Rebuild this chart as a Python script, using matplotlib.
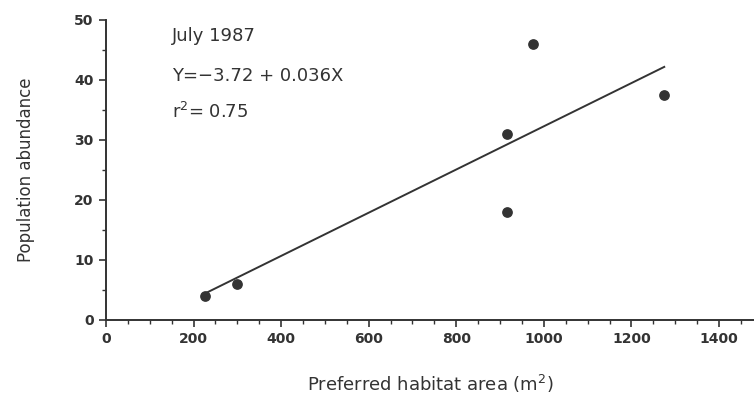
import numpy as np
from matplotlib import pyplot as plt
from matplotlib.ticker import MultipleLocator

# data
area = [225, 300, 915, 915, 975, 1275]
abundance = [4, 6, 31, 18, 46, 37.5]
intercept = -3.72
slope = 0.036
fit_x = np.array([225, 1275])

ink = '#333333'
plt.rcParams['font.family'] = ['DejaVu Sans']

fig = plt.figure(figsize=(7.54, 4.16), dpi=100)
ax = fig.add_axes([0.1406, 0.2308, 0.8594, 0.7212])

ax.plot(fit_x, intercept + slope * fit_x, color=ink, lw=1.4)
ax.scatter(area, abundance, s=45, color=ink, zorder=3)

ax.set_xlim(0, 1480)
ax.set_ylim(0, 50)
ax.xaxis.set_major_locator(MultipleLocator(200))
ax.xaxis.set_minor_locator(MultipleLocator(50))
ax.yaxis.set_major_locator(MultipleLocator(10))
ax.yaxis.set_minor_locator(MultipleLocator(5))

for s in ['top', 'right']:
    ax.spines[s].set_visible(False)
for s in ['left', 'bottom']:
    ax.spines[s].set_linewidth(1.4)
    ax.spines[s].set_color(ink)
    ax.spines[s].set_clip_on(False)

ax.tick_params(which='major', length=5, width=1.2, color=ink, labelsize=10,
               labelcolor=ink, pad=4)
ax.tick_params(which='minor', length=3, width=1.0, color=ink)
for lab in ax.get_xticklabels() + ax.get_yticklabels():
    lab.set_fontweight('bold')

ax.set_xlabel('Preferred habitat area (m$^2$)', fontsize=13, color=ink, labelpad=19)
ax.set_ylabel('Population abundance', fontsize=12, color=ink, labelpad=28)

ax.text(150, 46.5, 'July 1987', fontsize=13, color=ink)
ax.text(150, 39.8, 'Y=\u22123.72 + 0.036X', fontsize=13, color=ink)
ax.text(150, 33.6, 'r$^2$= 0.75', fontsize=13, color=ink)

fig.savefig('out.png', dpi=100)
